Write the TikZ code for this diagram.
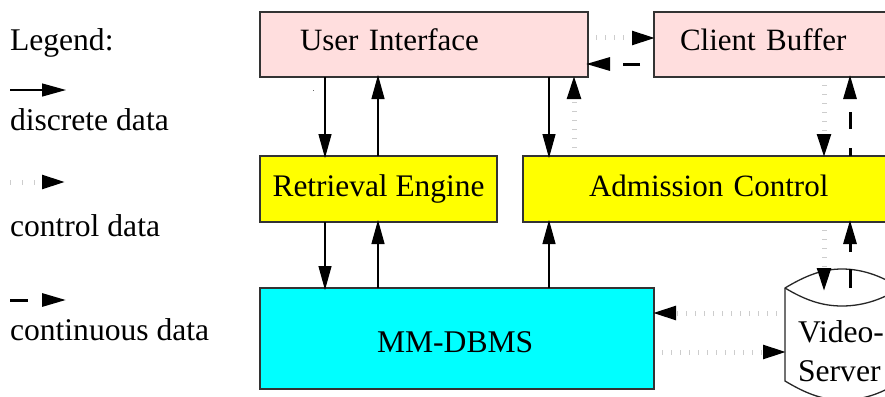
\documentclass[tikz,border=0pt]{standalone}
\usepackage{fontspec}
\setmainfont{Liberation Serif}
\usetikzlibrary{arrows.meta,calc}
\definecolor{uipink}{RGB}{255,222,222}
\definecolor{dotgray}{RGB}{205,205,205}
\definecolor{boxyellow}{RGB}{255,255,0}
\definecolor{boxcyan}{RGB}{0,255,255}
\tikzset{
  box/.style={draw=black!80,line width=1.3pt,rectangle,anchor=north west,inner sep=0pt,outer sep=0pt,align=center},
  lbl/.style={anchor=base west,inner sep=0pt,outer sep=0pt},
  headtip/.tip={Triangle[length=24pt,width=13pt,color=black,fill=black]},
  disc/.style={-{headtip},shorten >=-2pt,line width=1.2pt,black},
  ctrl/.style={-{headtip},shorten >=-2pt,line width=5pt,draw=dotgray,dash pattern=on 1pt off 8pt,dash phase=1pt},
  cont/.style={-{headtip},shorten >=-2pt,line width=3pt,black},
}
\newcommand{\boxfont}{\fontsize{31}{39}\selectfont}
\newcommand{\lowered}[2]{\raisebox{-#1}[0pt][0pt]{#2}}
\begin{document}
\begin{tikzpicture}[x=1pt,y=-1pt,font=\fontsize{31.6}{39}\selectfont]
\useasboundingbox (0,0) rectangle (885,396);
\clip (0,0) rectangle (885,396);
% columns and rows for connectors
\coordinate (c1) at (325,0);
\coordinate (c2) at (378,0);
\coordinate (c3) at (549,0);
\coordinate (c4) at (574,0);
\coordinate (c5) at (824,0);
\coordinate (c6) at (850,0);
\coordinate (r1) at (0,38);
\coordinate (r2) at (0,64);
\coordinate (r3) at (0,313);
\coordinate (r4) at (0,352);
\coordinate (vtop) at (785,288);
% cylinder
\draw[line width=1.3pt,black!85,fill=white]
  (785,288) .. controls (805,276) and (822,269) .. (842,269)
            .. controls (865,269) and (885,278) .. (900,288)
            -- (900,381) .. controls (885,392) and (865,400) .. (842,400)
            .. controls (822,400) and (805,393) .. (785,381) -- cycle;
\draw[line width=1.3pt,black!85]
  (785,288) .. controls (805,300) and (822,306) .. (842,306)
            .. controls (865,306) and (885,298) .. (900,288);
\node[anchor=north west,minimum width=112pt,minimum height=90pt,inner sep=0pt,outer sep=0pt,align=left] (video) at (785,306) {Video-\\Server};
% boxes
\node[box,fill=uipink,minimum width=328pt,minimum height=65pt,text width=328pt,align=left,font=\boxfont] (ui) at (260,12) {\hspace*{40pt}\lowered{6.5pt}{User Interface}};
\node[box,fill=uipink,minimum width=240pt,minimum height=65pt,text width=240pt,align=left,font=\boxfont] (cb) at (654,12) {\hspace*{26pt}\lowered{6.5pt}{Client Buffer}};
\node[box,fill=boxyellow,minimum width=237pt,minimum height=66pt,font=\fontsize{31.4}{39}\selectfont] (re) at (260,156) {\lowered{7pt}{Retrieval Engine}};
\node[box,fill=boxyellow,minimum width=370pt,minimum height=66pt,text width=370pt,align=left,font=\boxfont] (ac) at (523,156) {\hspace*{66pt}\lowered{7pt}{Admission Control}};
\node[box,fill=boxcyan,minimum width=394pt,minimum height=101pt,text width=394pt,align=left] (db) at (260,288) {\hspace*{117pt}\lowered{14pt}{MM-DBMS}};
% connectors
\draw[disc] (ui.south -| c1) -- (re.north -| c1);
\draw[disc] (re.north -| c2) -- (ui.south -| c2);
\draw[disc] (re.south -| c1) -- (db.north -| c1);
\draw[disc] (db.north -| c2) -- (re.south -| c2);
\draw[disc] (ui.south -| c3) -- (ac.north -| c3);
\draw[disc] (db.north -| c3) -- (ac.south -| c3);
\draw[ctrl] (ac.north -| c4) -- (ui.south -| c4);
\draw[ctrl] (cb.south -| c5) -- (ac.north -| c5);
\draw[ctrl] (ac.south -| c5) -- ($(vtop -| c5)+(0,2)$);
\draw[ctrl] (ui.east |- r1) -- (cb.west |- r1);
\draw[ctrl] (video.west |- r3) -- (db.east |- r3);
\draw[ctrl] (db.east |- r4) -- (video.west |- r4);
\draw[cont,dash pattern=on 17pt off 14pt,dash phase=17pt] (cb.west |- r2) -- (ui.east |- r2);
\draw[cont,dash pattern=on 17pt off 19pt,dash phase=9pt] (ac.north -| c6) -- (cb.south -| c6);
\draw[cont,dash pattern=on 19pt off 17pt] (vtop -| c6) -- (ac.south -| c6);
% legend
\node[lbl] (lg) at (10,51) {Legend:};
\node[lbl] (ld) at (10,130) {discrete data};
\node[lbl] (lc) at (10,236) {control data};
\node[lbl] (lk) at (10,340) {continuous data};
\coordinate (a1) at (10,90);\coordinate (b1) at (64,90);
\coordinate (a2) at (10,182);\coordinate (b2) at (64,182);
\coordinate (a3) at (10,300);\coordinate (b3) at (64,300);
\draw[disc] (a1) -- (b1);
\draw[ctrl,dash pattern=on 1pt off 11pt,dash phase=0pt] (a2) -- (b2);
\draw[cont,dash pattern=on 18pt off 30pt] (a3) -- (b3);
\fill[black!60] (312.5,90) rectangle (313.5,91);
\end{tikzpicture}
\end{document}
